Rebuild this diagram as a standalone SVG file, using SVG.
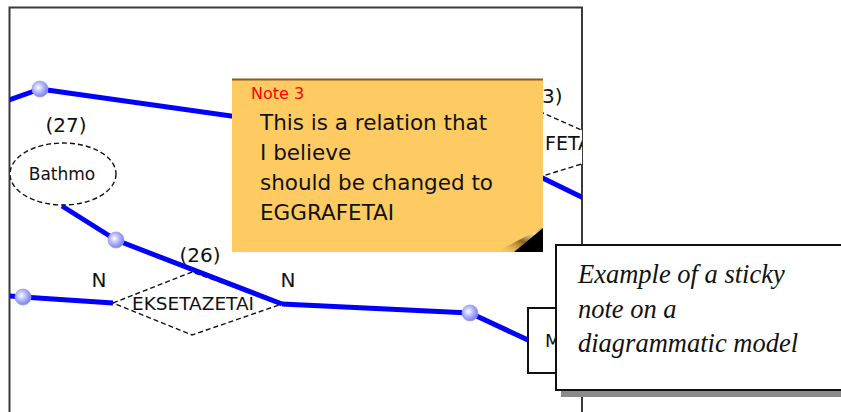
<svg xmlns="http://www.w3.org/2000/svg" width="841" height="412" viewBox="0 0 841 412">
<defs>
<style>
.frame{fill:none;stroke:#3a3a3a;stroke-width:2}
.conn{fill:none;stroke:#0000ff;stroke-width:5;stroke-linejoin:round}
.dash{fill:#ffffff;stroke:#111;stroke-width:1.4;stroke-dasharray:5 3}
.lbl{font-family:"DejaVu Sans",Verdana,sans-serif;fill:#111}
.note-txt{font-family:"DejaVu Sans",Verdana,sans-serif;font-size:21.5px;fill:#111}
.cap{font-family:"Liberation Serif","Times New Roman",serif;font-style:italic;font-size:26.5px;fill:#111}
</style>
<radialGradient id="dotg" cx="0.4" cy="0.4" r="0.6">
<stop offset="0" stop-color="#ffffff"/>
<stop offset="0.5" stop-color="#b4b8ff"/>
<stop offset="1" stop-color="#7d82e8"/>
</radialGradient>
<linearGradient id="curl" x1="0" y1="1" x2="1" y2="0">
<stop offset="0" stop-color="#fecb62" stop-opacity="0"/>
<stop offset="0.5" stop-color="#8a6420"/>
<stop offset="0.8" stop-color="#f3e2a8"/>
<stop offset="1" stop-color="#b08a40"/>
</linearGradient>
<clipPath id="view"><rect x="10" y="8" width="572" height="404"/></clipPath>
</defs>
<rect width="841" height="412" fill="#ffffff"/>

<g id="frame">
<path class="frame" d="M9.5,412 V7.5 H582 V412"/>
</g>

<g clip-path="url(#view)">
<g id="rel-23">
<polygon class="dash" points="430,144 520,103 627,150 520,183"/>
<text class="lbl" x="542" y="103" font-size="20">3)</text>
<text class="lbl" x="545" y="150" font-size="19">FETA</text>
</g>
<g id="bathmo">
<text class="lbl" x="66" y="132" font-size="20" text-anchor="middle">(27)</text>
<ellipse class="dash" cx="63" cy="174" rx="53" ry="31"/>
<text class="lbl" x="62" y="180" font-size="17" text-anchor="middle">Bathmo</text>
</g>
<g id="eksetazetai">
<text class="lbl" x="200" y="262" font-size="20" text-anchor="middle">(26)</text>
<polygon class="dash" points="113,303 192,272 282,304 192,335"/>
<text class="lbl" x="193" y="310" font-size="18.5" text-anchor="middle">EKSETAZETAI</text>
<text class="lbl" x="99" y="287" font-size="20" text-anchor="middle">N</text>
<text class="lbl" x="288" y="287" font-size="20" text-anchor="middle">N</text>
</g>
<g id="entity-m">
<rect x="528" y="308" width="80" height="65" fill="#ffffff" stroke="#111" stroke-width="2"/>
<text class="lbl" x="545" y="347" font-size="18">M</text>
</g>

<g id="connectors">
<polyline class="conn" points="9,100 40,89 430,144"/>
<polyline class="conn" points="520,167 600,206"/>
<polyline class="conn" points="62,206 116,240 282,304"/>
<polyline class="conn" points="9,296 23,297 113,303"/>
<polyline class="conn" points="282,304 470,313 528,340"/>
<g fill="url(#dotg)" stroke="#9ca0f0" stroke-width="0.8">
<circle cx="40" cy="89" r="8"/>
<circle cx="116" cy="240" r="8"/>
<circle cx="23" cy="297" r="8"/>
<circle cx="470" cy="313" r="8"/>
</g>
</g>
</g>

<g id="note-3">
<rect x="232" y="79" width="311" height="173" fill="#fecb62"/>
<line x1="232" y1="79.5" x2="543" y2="79.5" stroke="#8a5a22" stroke-width="2"/>
<polygon points="496,252 515,252 543,228 540,229" fill="url(#curl)"/>
<polygon points="543,228 543,252 514,252" fill="#000000"/>
<text x="251" y="99" font-family="DejaVu Sans,Verdana,sans-serif" font-size="16" fill="#ff0000">Note 3</text>
<text class="note-txt" x="260" y="130">This is a relation that</text>
<text class="note-txt" x="260" y="160">I believe</text>
<text class="note-txt" x="260" y="190">should be changed to</text>
<text class="note-txt" x="260" y="220">EGGRAFETAI</text>
</g>

<g id="caption-note">
<rect x="561" y="390" width="290" height="7" fill="#8a8a8a"/>
<rect x="556" y="245" width="300" height="145" fill="#ffffff" stroke="#111" stroke-width="2"/>
<text class="cap" x="578" y="283">Example of a sticky</text>
<text class="cap" x="578" y="318">note on a</text>
<text class="cap" x="578" y="352">diagrammatic model</text>
</g>
</svg>
